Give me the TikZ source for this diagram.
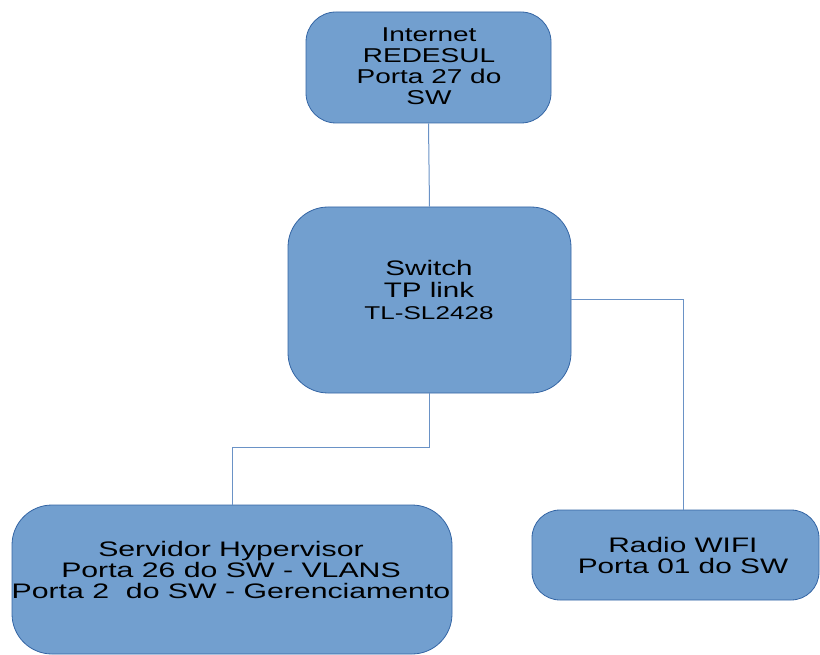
\documentclass[tikz,border=0pt]{standalone}
\usepackage{fontspec}
\setmainfont{Liberation Sans}
\usetikzlibrary{calc}
\definecolor{boxfill}{HTML}{729FCF}
\definecolor{boxline}{HTML}{3465A4}
\definecolor{connline}{HTML}{6A92C6}
\begin{document}
\begin{tikzpicture}[x=1pt,y=-1pt,
  box/.style={draw=boxline, fill=boxfill, line width=0.8pt, inner sep=0pt},
  conn/.style={draw=connline, line width=1pt},
  txt/.style={align=center, inner sep=0pt, xscale=1.4, transform shape, font=\fontsize{20}{21}\selectfont}]
\useasboundingbox (0,0) rectangle (820,655);
\node[box, minimum width=245pt, minimum height=111pt, rounded corners=30pt] (inet) at (428.5,67.5) {};
\node[box, minimum width=283pt, minimum height=186pt, rounded corners=40pt] (sw) at (429.5,300) {};
\node[box, minimum width=440pt, minimum height=149pt, rounded corners=40pt] (srv) at (232,579.5) {};
\node[box, minimum width=287pt, minimum height=90pt, rounded corners=28pt] (radio) at (675.5,555) {};
\draw[conn] (inet.south) -- (sw.north);
\draw[conn] (sw.east) -| ([xshift=7.5pt]radio.north);
\draw[conn] (sw.south) -- ++(0,54) -| (srv.north);
\node[txt] (tinet) at (429,66) {Internet\\REDESUL\\Porta 27 do\\SW};
\node[txt, xscale=1.41/1.4, font=\fontsize{21}{22}\selectfont] (tsw) at (429,290) {Switch\\TP link\\{\fontsize{18.5}{20}\selectfont TL-SL2428}};
\node[txt, xscale=1.44/1.4, font=\fontsize{21}{21}\selectfont] (tsrv) at (231,570) {Servidor Hypervisor\\Porta 26 do SW - VLANS\\Porta 2\ \ do SW - Gerenciamento};
\node[txt, xscale=1.42/1.4, font=\fontsize{21}{21}\selectfont] (tradio) at (683,555) {Radio WIFI\\Porta 01 do SW};
\end{tikzpicture}
\end{document}
